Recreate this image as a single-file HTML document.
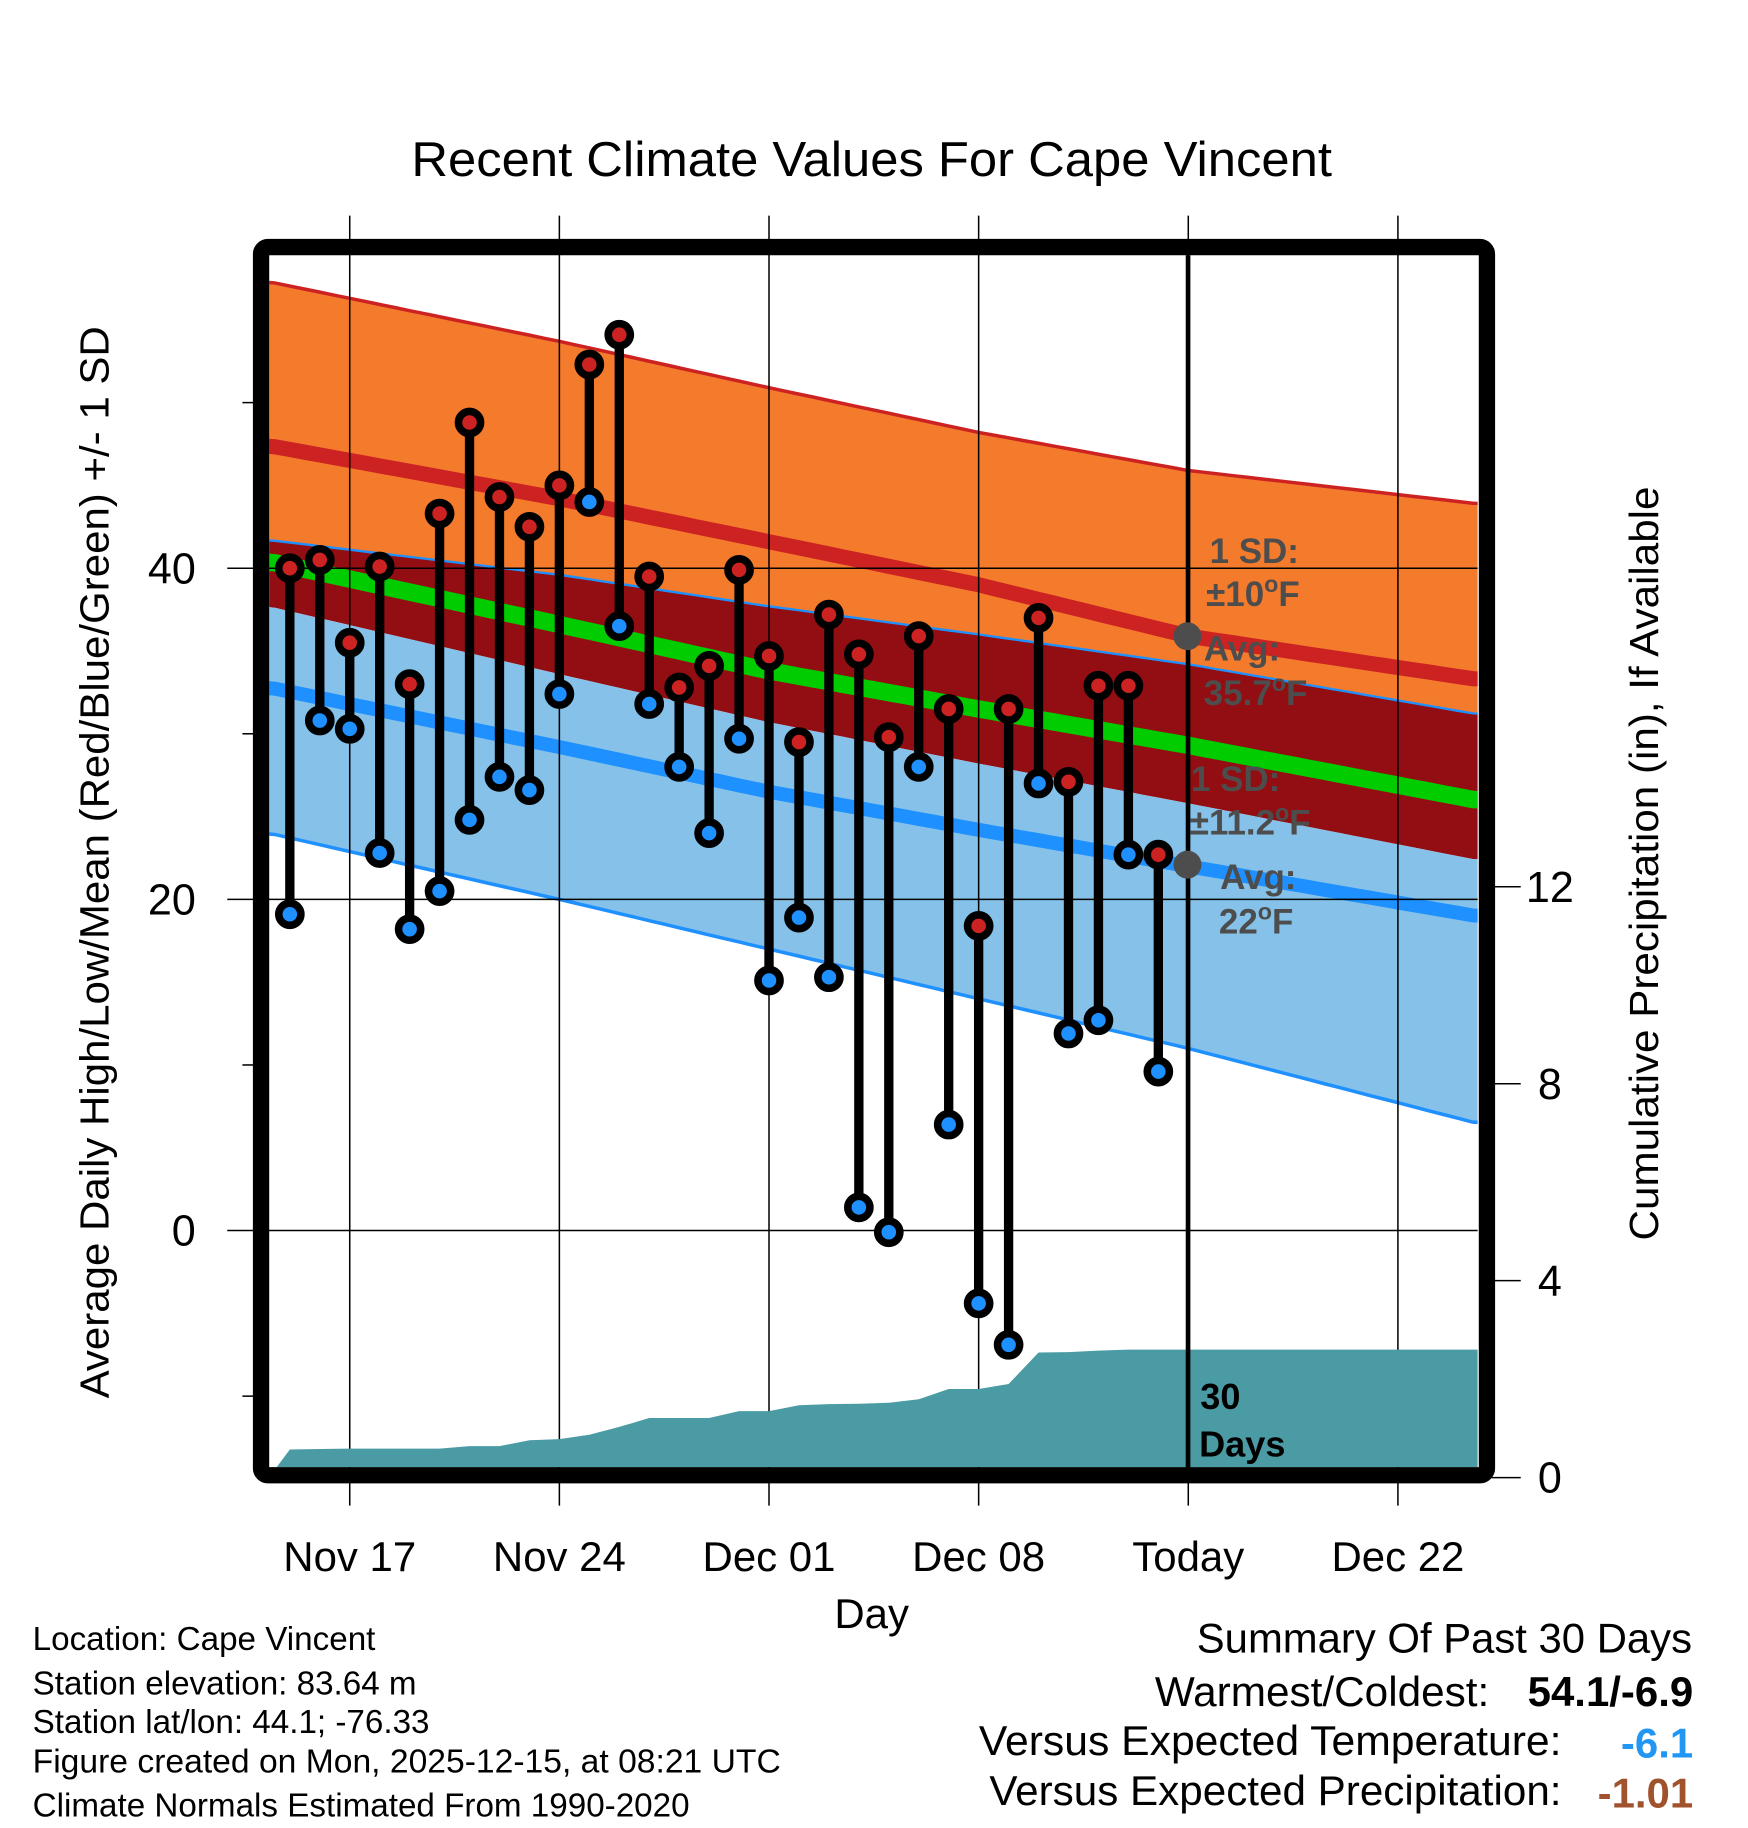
<!DOCTYPE html>
<html><head><meta charset="utf-8"><style>
html,body{margin:0;padding:0;background:#fff;}
svg{display:block;font-family:"Liberation Sans",Arial,sans-serif;}
</style></head><body>
<svg id="chart" width="1748" height="1828" viewBox="0 0 1500 1568.7" xmlns="http://www.w3.org/2000/svg">
<text x="748" y="151" font-size="42" text-anchor="middle" textLength="790" lengthAdjust="spacingAndGlyphs">Recent Climate Values For Cape Vincent</text>
<defs><clipPath id="plotclip"><rect x="231" y="219" width="1037" height="1040"/></clipPath></defs>
<g id="bands" clip-path="url(#plotclip)"></g>
<g id="grid"></g>
<g id="precip" clip-path="url(#plotclip)"></g>
<g id="annot">
<line x1="1019.5" y1="219" x2="1019.5" y2="1262" stroke="#000" stroke-width="4"/>
<circle cx="1019" cy="546" r="12" fill="#4d4d4d"/>
<circle cx="1019" cy="742" r="12" fill="#4d4d4d"/>
<g font-weight="bold" font-size="30" fill="#4d4d4d">
<text x="1038" y="483">1 SD:</text>
<text x="1035" y="520">±10<tspan font-size="20" dy="-12">o</tspan><tspan dy="12">F</tspan></text>
<text x="1033" y="567">Avg:</text>
<text x="1033" y="605">35.7<tspan font-size="20" dy="-12">o</tspan><tspan dy="12">F</tspan></text>
<text x="1022" y="679">1 SD:</text>
<text x="1021" y="716">±11.2<tspan font-size="20" dy="-12">o</tspan><tspan dy="12">F</tspan></text>
<text x="1047" y="763">Avg:</text>
<text x="1046" y="801">22<tspan font-size="20" dy="-12">o</tspan><tspan dy="12">F</tspan></text>
</g>
<text x="1030" y="1209" font-size="31" font-weight="bold">30</text>
<text x="1029" y="1250" font-size="31" font-weight="bold">Days</text>
</g>
<g id="points"></g>
<rect x="224" y="212" width="1052" height="1054" rx="6" fill="none" stroke="#000" stroke-width="14"/>
<g id="axes" font-size="37"></g>
<text transform="translate(93,740) rotate(-90)" font-size="35" text-anchor="middle" textLength="920" lengthAdjust="spacingAndGlyphs">Average Daily High/Low/Mean (Red/Blue/Green) +/- 1 SD</text>
<text transform="translate(1423,741) rotate(-90)" font-size="35" text-anchor="middle" textLength="647" lengthAdjust="spacingAndGlyphs">Cumulative Precipitation (in), If Available</text>
<text x="748" y="1397" font-size="36" text-anchor="middle">Day</text>
<g font-size="28.5">
<text x="28" y="1416">Location: Cape Vincent</text>
<text x="28" y="1454">Station elevation: 83.64 m</text>
<text x="28" y="1487">Station lat/lon: 44.1; -76.33</text>
<text x="28" y="1521" textLength="642" lengthAdjust="spacingAndGlyphs">Figure created on Mon, 2025-12-15, at 08:21 UTC</text>
<text x="28" y="1559">Climate Normals Estimated From 1990-2020</text>
</g>
<g font-size="36">
<text x="1452" y="1418" text-anchor="end" textLength="425" lengthAdjust="spacingAndGlyphs">Summary Of Past 30 Days</text>
<text x="1278" y="1464" text-anchor="end" textLength="287" lengthAdjust="spacingAndGlyphs">Warmest/Coldest:</text>
<text x="1453" y="1464" text-anchor="end" font-weight="bold">54.1/-6.9</text>
<text x="1340" y="1506" text-anchor="end" textLength="500" lengthAdjust="spacingAndGlyphs">Versus Expected Temperature:</text>
<text x="1453" y="1508" text-anchor="end" font-weight="bold" fill="#2196f3">-6.1</text>
<text x="1340" y="1549" text-anchor="end" textLength="491" lengthAdjust="spacingAndGlyphs">Versus Expected Precipitation:</text>
<text x="1453" y="1551" text-anchor="end" font-weight="bold" fill="#a0522d">-1.01</text>
</g>
</svg>
<script>
// Normals knots (day index, 0 = Nov 14)
const knotDays = [0.3, 10, 17, 24, 31, 40.6];
const hiTop = [57.3, 53.7, 50.9, 48.2, 45.9, 43.9];
const hiMean = [47.4, 44.2, 41.6, 39.0, 35.9, 33.3];
const hiBot = [41.7, 39.6, 37.7, 36.0, 34.2, 31.2];
const avgMean = [40.4, 36.6, 33.8, 31.5, 29.3, 26.0];
const loTop = [37.7, 33.6, 30.7, 28.2, 25.8, 22.4];
const loMean = [32.8, 29.2, 26.5, 24.2, 22.0, 19.0];
const loBot = [24.0, 20.0, 17.0, 14.0, 11.0, 6.5];
// Observations, first day = Nov 15 (day 1)
const highs = [40.0,40.5,35.5,40.1,33.0,43.3,48.8,44.3,42.5,45.0,52.3,54.1,39.5,32.8,34.1,39.9,34.7,29.5,37.2,34.8,29.8,35.9,31.5,18.4,31.5,37.0,27.1,32.9,32.9,22.7];
const lows = [19.1,30.8,30.3,22.8,18.2,20.5,24.8,27.4,26.6,32.4,44.0,36.5,31.8,28.0,24.0,29.7,15.1,18.9,15.3,1.4,-0.1,28.0,6.4,-4.4,-6.9,27.0,11.9,12.7,22.7,9.6];
const precip = [0.57,0.58,0.59,0.59,0.59,0.59,0.64,0.64,0.76,0.78,0.87,1.03,1.21,1.21,1.21,1.35,1.35,1.47,1.49,1.50,1.52,1.59,1.80,1.80,1.90,2.54,2.55,2.58,2.60,2.60];
const yTicks = [40, 20, 0];
const yMinor = [50, 30, 10, -10];
const y2Ticks = [0, 4, 8, 12];
const xTickDays = [3, 10, 17, 24, 31, 38];
const xTickLabels = ["Nov 17","Nov 24","Dec 01","Dec 08","Today","Dec 22"];

const NS = "http://www.w3.org/2000/svg";
const xs = d => 223 + 25.7 * d;
const ys = v => 1056 - 14.21 * v;
const y2s = p => 1268 - 42.25 * p;
function mk(parent, tag, attrs) {
  const e = document.createElementNS(NS, tag);
  for (const k in attrs) e.setAttribute(k, attrs[k]);
  document.getElementById(parent).appendChild(e);
  return e;
}
function interp(arr, d) {
  if (d <= knotDays[0]) return arr[0];
  for (let i = 0; i < knotDays.length - 1; i++) {
    if (d <= knotDays[i + 1]) {
      const t = (d - knotDays[i]) / (knotDays[i + 1] - knotDays[i]);
      return arr[i] + t * (arr[i + 1] - arr[i]);
    }
  }
  return arr[arr.length - 1];
}
const sampleDays = [];
for (let d = 0; d <= 41; d += 0.5) sampleDays.push(d);
function linePts(arr) { return sampleDays.map(d => xs(d).toFixed(1) + "," + ys(interp(arr, d)).toFixed(1)); }
function bandPts(a, b) { return linePts(a).concat(linePts(b).reverse()).join(" "); }

let e;
e = mk("bands", "polygon", {points: bandPts(hiTop, hiBot), fill: "#f47a2c"});


e = mk("bands", "polygon", {points: bandPts(hiBot, loTop), fill: "#930e12"});


e = mk("bands", "polygon", {points: bandPts(loTop, loBot), fill: "#85c1e8"});


const lines = [
  [hiTop, "#cc2222", 3, "high-plus-sd-line"],
  [hiMean, "#cc2222", 13, "high-mean-line"],
  [hiBot, "#1e90ff", 2, "high-minus-sd-line"],
  [avgMean, "#00cc00", 15, "mean-line"],
  [loMean, "#1e90ff", 12, "low-mean-line"],
  [loBot, "#1e90ff", 3, "low-minus-sd-line"]
];
for (const L of lines) {
  e = mk("bands", "polyline", {points: linePts(L[0]).join(" "), fill: "none", stroke: L[1], "stroke-width": L[2]});
  
  
}
// grid
xTickDays.forEach((d, i) => {
  e = mk("grid", "line", {x1: xs(d), x2: xs(d), y1: 185, y2: 1292, stroke: "#000", "stroke-width": 1.3});
  
  
  e = mk("axes", "text", {x: xs(d), y: 1348, "text-anchor": "middle", "font-size": 36});
  e.textContent = xTickLabels[i];
  
  
});
yTicks.forEach(v => {
  e = mk("grid", "line", {x1: 195, x2: 1268, y1: ys(v), y2: ys(v), stroke: "#000", "stroke-width": 1.3});
  
  
  e = mk("axes", "text", {x: 168, y: ys(v) + 13, "text-anchor": "end"});
  e.textContent = v;
  
  
});
yMinor.forEach(v => {
  e = mk("grid", "line", {x1: 208, x2: 220, y1: ys(v), y2: ys(v), stroke: "#000", "stroke-width": 1.3});
  
  
});
y2Ticks.forEach(p => {
  e = mk("grid", "line", {x1: 1280, x2: 1305, y1: y2s(p), y2: y2s(p), stroke: "#000", "stroke-width": 1.3});
  
  
  e = mk("axes", "text", {x: 1330, y: y2s(p) + 13, "text-anchor": "middle"});
  e.textContent = p;
  
  
});
// precip area
let pp = [xs(0.3) + "," + y2s(0)];
precip.forEach((p, i) => pp.push(xs(i + 1).toFixed(1) + "," + y2s(p).toFixed(1)));
pp.push(xs(41) + "," + y2s(precip[precip.length - 1]).toFixed(1));
pp.push(xs(41) + "," + y2s(0));
e = mk("precip", "polygon", {points: pp.join(" "), fill: "#4a9ba3"});


// stems + markers
highs.forEach((h, i) => {
  const x = xs(i + 1);
  e = mk("points", "line", {x1: x, x2: x, y1: ys(h), y2: ys(lows[i]), stroke: "#000", "stroke-width": 8});
  
  
});
highs.forEach((h, i) => {
  const x = xs(i + 1);
  e = mk("points", "circle", {cx: x, cy: ys(h), r: 9.5, fill: "#cc2222", stroke: "#000", "stroke-width": 6.5});
  
  
  e = mk("points", "circle", {cx: x, cy: ys(lows[i]), r: 9.5, fill: "#1e90ff", stroke: "#000", "stroke-width": 6.5});
  
  
});
</script>
</body></html>
